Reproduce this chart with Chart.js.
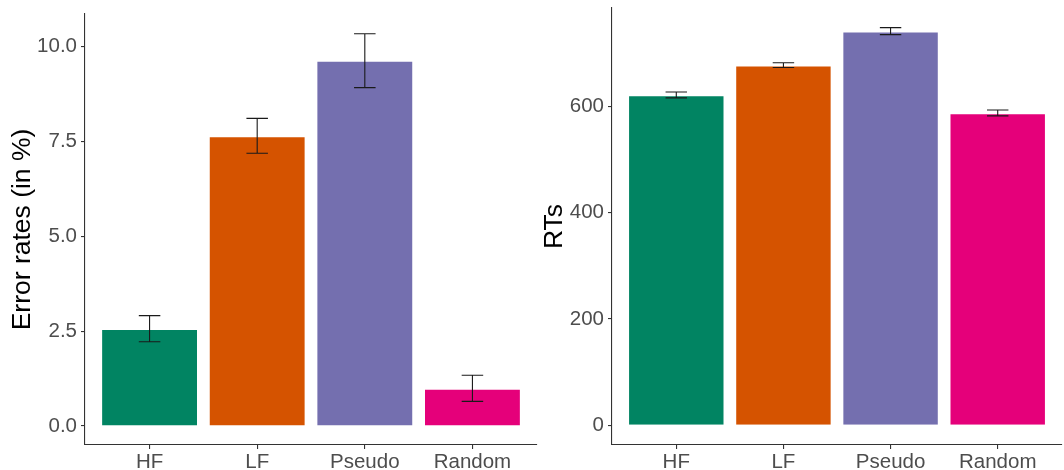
<!DOCTYPE html>
<html>
<head>
<meta charset="utf-8">
<script src="https://cdn.jsdelivr.net/npm/chart.js@4"></script>
<style>
  html, body { margin: 0; padding: 0; background: #fff; }
  #wrap { position: relative; width: 1064px; height: 470px; }
  .panel { position: absolute; top: 0; height: 470px; }
</style>
</head>
<body>
<div id="wrap">
  <div class="panel" style="left:0;width:540px"><canvas id="errChart"></canvas></div>
  <div class="panel" style="left:540px;width:524px"><canvas id="rtChart"></canvas></div>
</div>
<script>
// Data
const categories = ['HF', 'LF', 'Pseudo', 'Random'];
const barColors = ['#018462', '#D55300', '#746FAF', '#E5007A'];

const errorRates = [2.56, 7.64, 9.63, 0.98];
const errorLow = [2.22, 7.19, 8.92, 0.65];
const errorHigh = [2.91, 8.11, 10.34, 1.34];
const errorTicks = [0, 2.5, 5, 7.5, 10];

const rtMeans = [621, 677, 741, 587];
const rtLow = [616, 673, 735, 582];
const rtHigh = [627, 682, 748, 593];
const rtTicks = [0, 200, 400, 600];

const axisColor = '#333333';
const textColor = '#4D4D4D';

// draws error bars with caps from the low/high arrays
const errorBarPlugin = {
    id: 'errorBars',
    afterDatasetsDraw(chart, args, opts) {
        const ctx = chart.ctx;
        const x = chart.scales.x;
        const y = chart.scales.y;
        ctx.save();
        ctx.strokeStyle = '#1a1a1a';
        ctx.lineWidth = 1.1;
        for (let i = 0; i < opts.low.length; i++) {
            const cx = x.getPixelForValue(i + 1);
            const half = (x.getPixelForValue(1.1) - x.getPixelForValue(1)) ;
            const yl = y.getPixelForValue(opts.low[i]);
            const yh = y.getPixelForValue(opts.high[i]);
            ctx.beginPath();
            ctx.moveTo(cx, yl); ctx.lineTo(cx, yh);
            ctx.moveTo(cx - half, yl); ctx.lineTo(cx + half, yl);
            ctx.moveTo(cx - half, yh); ctx.lineTo(cx + half, yh);
            ctx.stroke();
        }
        ctx.restore();
    }
};

function makeChart(id, values, low, high, ticks, yMin, yMax, title, decimals, yWidth, pad, titlePad) {
    const ctx = document.getElementById(id).getContext('2d');
    return new Chart(ctx, {
        type: 'bar',
        data: {
            datasets: [{
                data: values.map((v, i) => ({ x: i + 1, y: v })),
                backgroundColor: barColors,
                borderColor: 'rgba(255,255,255,0.45)',
                borderWidth: 1,
                categoryPercentage: 0.9,
                barPercentage: 1.0
            }]
        },
        options: {
            responsive: true,
            maintainAspectRatio: false,
            animation: false,
            layout: { padding: pad },
            plugins: {
                legend: { display: false },
                tooltip: { enabled: false },
                errorBars: { low: low, high: high }
            },
            scales: {
                x: {
                    type: 'linear',
                    min: 0.4,
                    max: 4.6,
                    offset: false,
                    afterBuildTicks: s => { s.ticks = categories.map((c, i) => ({ value: i + 1 })); },
                    afterFit: s => { s.height = 25; s.paddingLeft = 0; s.paddingRight = 0; },
                    grid: { display: true, offset: false, drawOnChartArea: false, drawTicks: true, tickLength: 4, color: axisColor, lineWidth: 1.1 },
                    border: { display: true, color: axisColor, width: 1.1 },
                    ticks: {
                        autoSkip: false,
                        maxRotation: 0,
                        padding: 1,
                        color: textColor,
                        font: { family: 'Arial, "Liberation Sans", sans-serif', size: 20.5 },
                        callback: v => categories[Math.round(v) - 1]
                    }
                },
                y: {
                    min: yMin,
                    max: yMax,
                    afterBuildTicks: s => { s.ticks = ticks.map(v => ({ value: v })); },
                    afterFit: s => { s.width = yWidth; s.paddingTop = 0; s.paddingBottom = 0; },
                    grid: { display: true, drawOnChartArea: false, drawTicks: true, tickLength: 4, color: axisColor, lineWidth: 1.1 },
                    border: { display: true, color: axisColor, width: 1.1 },
                    ticks: {
                        padding: 4,
                        color: textColor,
                        font: { family: 'Arial, "Liberation Sans", sans-serif', size: 20.5 },
                        callback: v => v.toFixed(decimals)
                    },
                    title: {
                        display: true,
                        text: title,
                        color: '#000',
                        padding: { top: titlePad, bottom: 0 },
                        font: { family: 'Arial, "Liberation Sans", sans-serif', size: 26.5, lineHeight: 1.1 }
                    }
                }
            }
        },
        plugins: [errorBarPlugin]
    });
}

makeChart('errChart', errorRates, errorLow, errorHigh, errorTicks, -0.5, 10.86,
    'Error rates (in %)', 1, 85, { top: 14, right: 3, left: 0, bottom: 0 }, 8);
makeChart('rtChart', rtMeans, rtLow, rtHigh, rtTicks, -37, 785,
    'RTs', 0, 72, { top: 8, right: 2, left: 0, bottom: 0 }, 0);
</script>
</body>
</html>
